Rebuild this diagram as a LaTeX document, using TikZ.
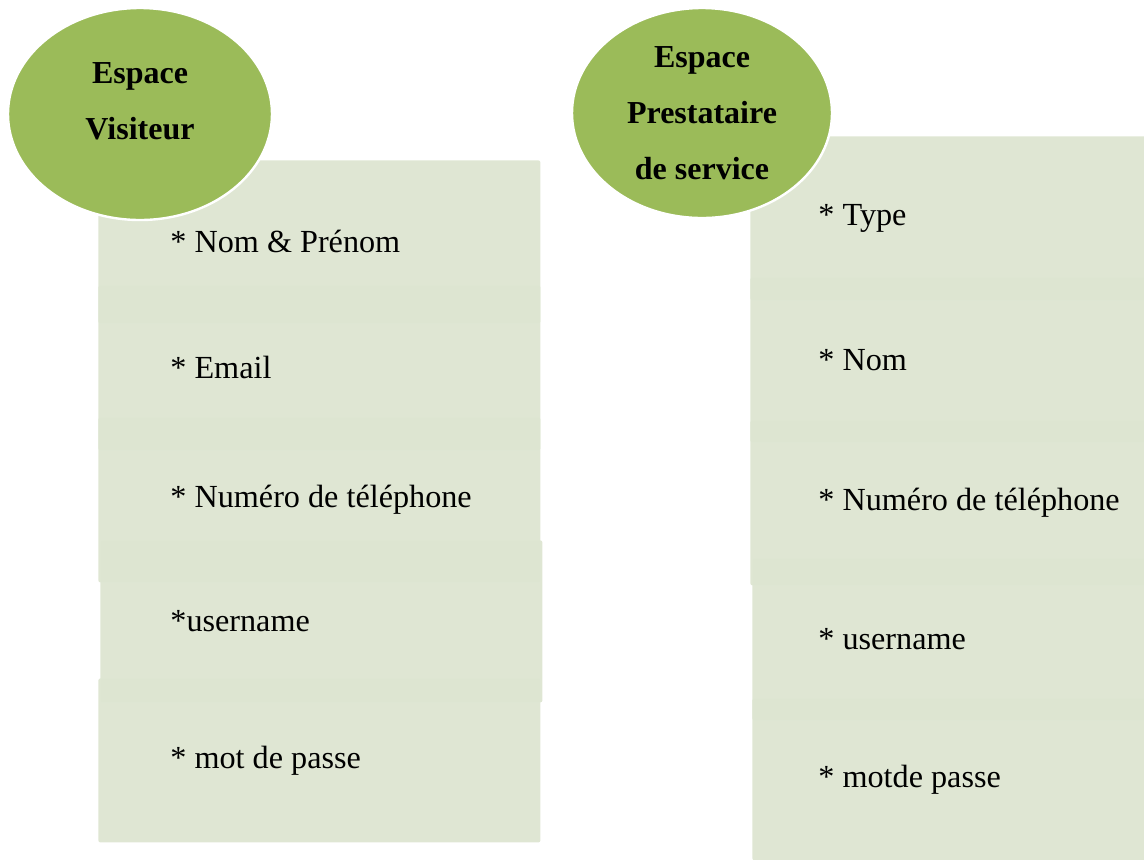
\documentclass[tikz,border=0pt]{standalone}
\usepackage{fontspec}
\setmainfont{Liberation Serif}
\usetikzlibrary{positioning,shapes.geometric}
\definecolor{espgreen}{HTML}{9BBB59}
\definecolor{fieldgreen}{RGB}{221,229,209}

\begin{document}
\begin{tikzpicture}[x=0.5pt, y=-0.5pt,
          field/.style={rectangle, fill=fieldgreen, fill opacity=0.95,
            rounded corners=1pt, minimum width=221pt, anchor=north west, inner sep=0},
          item/.style={inner sep=0, font=\fontsize{16.1pt}{19pt}\selectfont},
          space/.style={ellipse, fill=espgreen, draw=white, line width=1.2pt, inner sep=0},
          title/.style={align=center, inner sep=0, font=\bfseries\fontsize{16pt}{28pt}\selectfont}]

          \useasboundingbox (0,0) rectangle (1144,859);
          \clip (0,0) rectangle (1144,859);

          % visiteur
          \node[field, minimum height=81.5pt] (v1) at (98,160) {};
          \node[field, minimum height=82.5pt] (v2) at (98,285) {};
          \node[field, minimum height=82.5pt] (v3) at (98,417) {};
          \node[field, minimum height=81pt] (v4) at (100,540) {};
          \node[field, minimum height=82pt] (v5) at (98,678) {};
          \node[item, right=36pt of v1.west] (vt1) {* Nom \& Prénom};
          \node[item, right=36pt of v2.west] (vt2) {* Email};
          \node[item, right=36pt of v3.west] (vt3) {* Numéro de téléphone};
          \node[item, right=35pt of v4.west] (vt4) {*username};
          \node[item, right=36pt of v5.west] (vt5) {* mot de passe};

          % prestataire
          \node[field, minimum height=82pt] (p1) at (750,136) {};
          \node[field, minimum height=82.5pt] (p2) at (750,277) {};
          \node[field, minimum height=82.5pt] (p3) at (750,420) {};
          \node[field, minimum height=81pt] (p4) at (752,558) {};
          \node[field, minimum height=81pt] (p5) at (752,698) {};
          \node[item, right=34pt of p1.west] (pt1) {* Type};
          \node[item, right=34pt of p2.west] (pt2) {* Nom};
          \node[item, right=34pt of p3.west] (pt3) {* Numéro de téléphone};
          \node[item, right=33pt of p4.west] (pt4) {* username};
          \node[item, right=33pt of p5.west] (pt5) {* motde passe};

          \node[space, minimum width=132pt, minimum height=106pt] (ev) at (140,114) {};
          \node[title] (tv) at ([yshift=6.5pt]ev.center) {Espace\\Visiteur};
          \node[space, minimum width=130pt, minimum height=105pt] (ep) at (702,113) {};
          \node[title] (tp) at (ep.center) {Espace\\Prestataire\\de service};
        \end{tikzpicture}
\end{document}
